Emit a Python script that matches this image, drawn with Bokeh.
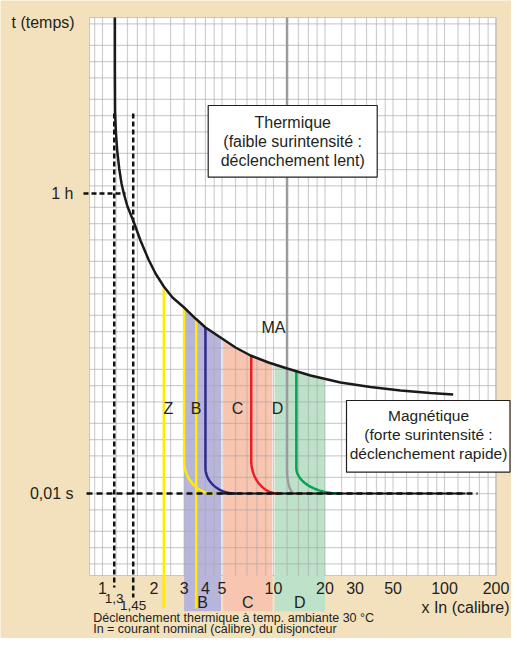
import numpy as np
from bokeh.plotting import figure
from bokeh.models import Range1d
from bokeh.core.properties import value
from bokeh.embed import file_html
from bokeh.resources import INLINE

# ---------------- data ----------------
# thermal tripping curve (multiple of In, time in s)
thermal_x = [1.180, 1.180, 1.183, 1.196, 1.219, 1.252, 1.292, 1.332, 1.400, 1.512,
             1.668, 1.858, 2.042, 2.283, 2.567, 2.988, 3.499, 4.003, 4.899, 5.995,
             7.337, 9.35, 12.03, 16.46, 24.65, 36.9, 55.3, 82.8, 112.4]
thermal_t = [6.54e6, 6.83e5, 1.24e5, 5.28e4, 2.25e4, 1.046e4, 5513, 3600, 2068, 1138,
             485, 216, 118.8, 68.3, 42.7, 28.2, 17.4, 11.88, 7.76, 5.06,
             3.60, 2.67, 2.07, 1.535, 1.138, 0.940, 0.810, 0.727, 0.682]

# magnetic trip curves: vertical at trip_x, bending to the 0.01 s line at trip_end_x
trip_names = ["B low", "B high", "C", "MA", "D"]
trip_x = [3.0, 4.0, 7.41, 12.0, 13.6]
trip_end_x = [4.46, 6.0, 10.7, 13.3, 24.6]
trip_knee_t = [0.041, 0.030, 0.041, 0.028, 0.030]
trip_from_top = [False, False, False, True, False]
trip_colors = ["#ffec00", "#2b2b8c", "#ee1c25", "#9b9b9b", "#00a651"]
instant_t = 0.01

# straight yellow lines (Z and B)
straight_x = [2.283, 3.53]
straight_bottom_t = [7.6e-5, 7.4e-5]

# coloured zones B, C, D
band_names = ["B", "C", "D"]
band_lo = [3.0, 5.07, 10.15]
band_hi = [4.93, 9.85, 20.0]
band_colors = ["#b7b5db", "#f8c6b0", "#bde1c9"]
band_bottom_t = 6.6e-5

# x tick labels
tick_vals = [1, 2, 3, 4, 5, 10, 20, 30, 50, 100, 200]
tick_labels = ["1", "2", "3", "4", "5", "10", "20", "30", "50", "100", "200"]

# thermal limits (dashed verticals)
limit_x = [1.171, 1.512]
limit_labels = ["1,3", "1,45"]

# time marks (dashed horizontals)
time_marks_t = [3600, 0.01]
time_marks_labels = ["1 h", "0,01 s"]

# grid paper
paper_x = [0.84, 200.0]
paper_t = [3.03e-4, 6.53e6]
grid_x_mult = [1, 1.2, 1.4, 1.6, 1.8, 2, 2.5, 3, 3.5, 4, 4.5, 5, 6, 7, 8, 9]
grid_t_mult = [1, 2, 5]

# ---------------- layout helpers (picture pixels -> data) ----------------
W, H = 511, 638
X1_PX, X_DEC = 102.0, 171.0
H_PX, Y_DEC = 193.0, 54.0


def fx(px):
    return 10 ** ((px - X1_PX) / X_DEC)


def fy(py):
    return 10 ** (np.log10(3600) - (py - H_PX) / Y_DEC)


TAN = "#f3e1bd"
INK = "#231f20"
FONT = value("Liberation Sans")

p = figure(width=W, height=H, x_axis_type="log", y_axis_type="log",
           x_range=Range1d(fx(0), fx(W)), y_range=Range1d(fy(H), fy(0)),
           output_backend="svg", toolbar_location=None,
           x_axis_location=None, y_axis_location=None,
           min_border=0, background_fill_color=TAN, border_fill_color=TAN,
           outline_line_color=None)
p.grid.visible = False

# paper
p.quad(left=[paper_x[0]], right=[paper_x[1]], bottom=[paper_t[0]], top=[paper_t[1]],
       fill_color="white", line_color="#c6c6c6", line_width=1)


def thermal_at(x):
    return 10 ** np.interp(np.log10(x), np.log10(thermal_x), np.log10(thermal_t))


# bands
for lo, hi, col in zip(band_lo, band_hi, band_colors):
    xs = np.geomspace(lo, hi, 40)
    ts = thermal_at(xs)
    px = [lo] + list(xs) + [hi]
    pt = [band_bottom_t] + list(ts) + [band_bottom_t]
    p.patch(px, pt, fill_color=col, line_color=None)

# grid lines
gx = [0.9]
for d in (1, 10, 100):
    for m in grid_x_mult:
        v = m * d
        if v <= paper_x[1] + 1e-9:
            gx.append(v)
gt = []
for e in range(-4, 7):
    for m in grid_t_mult:
        v = m * 10 ** e
        if paper_t[0] < v < paper_t[1]:
            gt.append(v)
p.segment(x0=gx, x1=gx, y0=[paper_t[0]] * len(gx), y1=[paper_t[1]] * len(gx),
          line_color="#a8a8a8", line_alpha=0.55, line_width=1.2)
p.segment(x0=[paper_x[0]] * len(gt), x1=[paper_x[1]] * len(gt), y0=gt, y1=gt,
          line_color="#a8a8a8", line_alpha=0.55, line_width=1.2)

# straight yellow lines
for x, tb in zip(straight_x, straight_bottom_t):
    p.line([x, x], [thermal_at(x), tb], line_color="#ffec00", line_width=2.5)

# magnetic trip curves
th = np.linspace(0, np.pi / 2, 40)
for x, xe, tk, top, col in zip(trip_x, trip_end_x, trip_knee_t, trip_from_top, trip_colors):
    t_start = paper_t[1] if top else thermal_at(x)
    lx = np.log10(x) + (np.log10(xe) - np.log10(x)) * (1 - np.cos(th))
    lt = np.log10(instant_t) + (np.log10(tk) - np.log10(instant_t)) * (1 - np.sin(th))
    xs = [x] + list(10 ** lx)
    ts = [t_start] + list(10 ** lt)
    p.line(xs, ts, line_color=col, line_width=2.5)

# dashed thermal limits
p.line([limit_x[0]] * 2, [fy(113), fy(587)], line_color="#111", line_width=2.5, line_dash="5 3")
p.line([limit_x[1]] * 2, [fy(113), fy(597)], line_color="#111", line_width=2.5, line_dash="5 3")
# dashed time marks
p.line([fx(83), fx(125)], [time_marks_t[0]] * 2, line_color="#111", line_width=2.5, line_dash="5 3")
p.line([fx(86), fx(477)], [time_marks_t[1]] * 2, line_color="#111", line_width=2.5, line_dash="6 4")
p.line([fx(218), fx(465)], [instant_t] * 2, line_color="#111", line_width=2)

# thermal curve
p.line(thermal_x, thermal_t, line_color="#1a1a1a", line_width=2.5)

# text boxes
p.quad(left=[fx(207.7)], right=[fx(376.7)], top=[fy(105)], bottom=[fy(176.7)],
       fill_color="white", line_color=INK, line_width=1.2)
p.text(x=[fx(292.2)] * 3, y=[fy(122), fy(141), fy(160)],
       text=["Thermique", "(faible surintensité :", "déclenchement lent)"],
       text_font=FONT, text_font_size="16px", text_color=INK,
       text_align="center", text_baseline="middle")
p.quad(left=[fx(346)], right=[fx(509.5)], top=[fy(400)], bottom=[fy(471.7)],
       fill_color="white", line_color=INK, line_width=1.2)
p.text(x=[fx(428)] * 3, y=[fy(415), fy(434), fy(453)],
       text=["Magnétique", "(forte surintensité :", "déclenchement rapide)"],
       text_font=FONT, text_font_size="15.5px", text_color=INK,
       text_align="center", text_baseline="middle")

# zone labels inside
p.text(x=[fx(168), fx(195.5), fx(237), fx(277)], y=[fy(408)] * 4,
       text=["Z", "B", "C", "D"], text_font=FONT, text_font_size="16px",
       text_color=INK, text_align="center", text_baseline="middle")
p.text(x=[fx(273)], y=[fy(327)], text=["MA"], text_font=FONT, text_font_size="16px",
       text_color=INK, text_align="center", text_baseline="middle")

# x tick labels
p.text(x=tick_vals, y=[fy(587)] * len(tick_vals), text=tick_labels, text_font=FONT,
       text_font_size="16px", text_color=INK, text_align="center", text_baseline="middle")
p.text(x=limit_x, y=[fy(598), fy(605)], text=limit_labels, text_font=FONT,
       text_font_size="13.5px", text_color=INK, text_align="center", text_baseline="middle")

# band labels below the paper
band_mid = [np.sqrt(lo * hi) for lo, hi in zip(band_lo, band_hi)]
p.text(x=band_mid, y=[fy(602)] * 3, text=band_names, text_font=FONT,
       text_font_size="16px", text_color=INK, text_align="center", text_baseline="middle")

# time labels
p.text(x=[fx(73)] * 2, y=time_marks_t, text=time_marks_labels, text_font=FONT,
       text_font_size="16px", text_color=INK, text_align="right", text_baseline="middle")
p.text(x=[fx(11)], y=[fy(22)], text=["t (temps)"], text_font=FONT,
       text_font_size="16px", text_color=INK, text_align="left", text_baseline="middle")
p.text(x=[fx(509)], y=[fy(607)], text=["x In (calibre)"], text_font=FONT,
       text_font_size="16px", text_color=INK, text_align="right", text_baseline="middle")

# footnotes
p.text(x=[fx(92.7)] * 2, y=[fy(617.5)] + [fy(628.5)],
       text=["Déclenchement thermique à temp. ambiante 30 °C",
             "In = courant nominal (calibre) du disjoncteur"],
       text_font=FONT, text_font_size="12.5px", text_color=INK,
       text_align="left", text_baseline="middle")

open("out.html", "w").write(file_html(p, INLINE))
